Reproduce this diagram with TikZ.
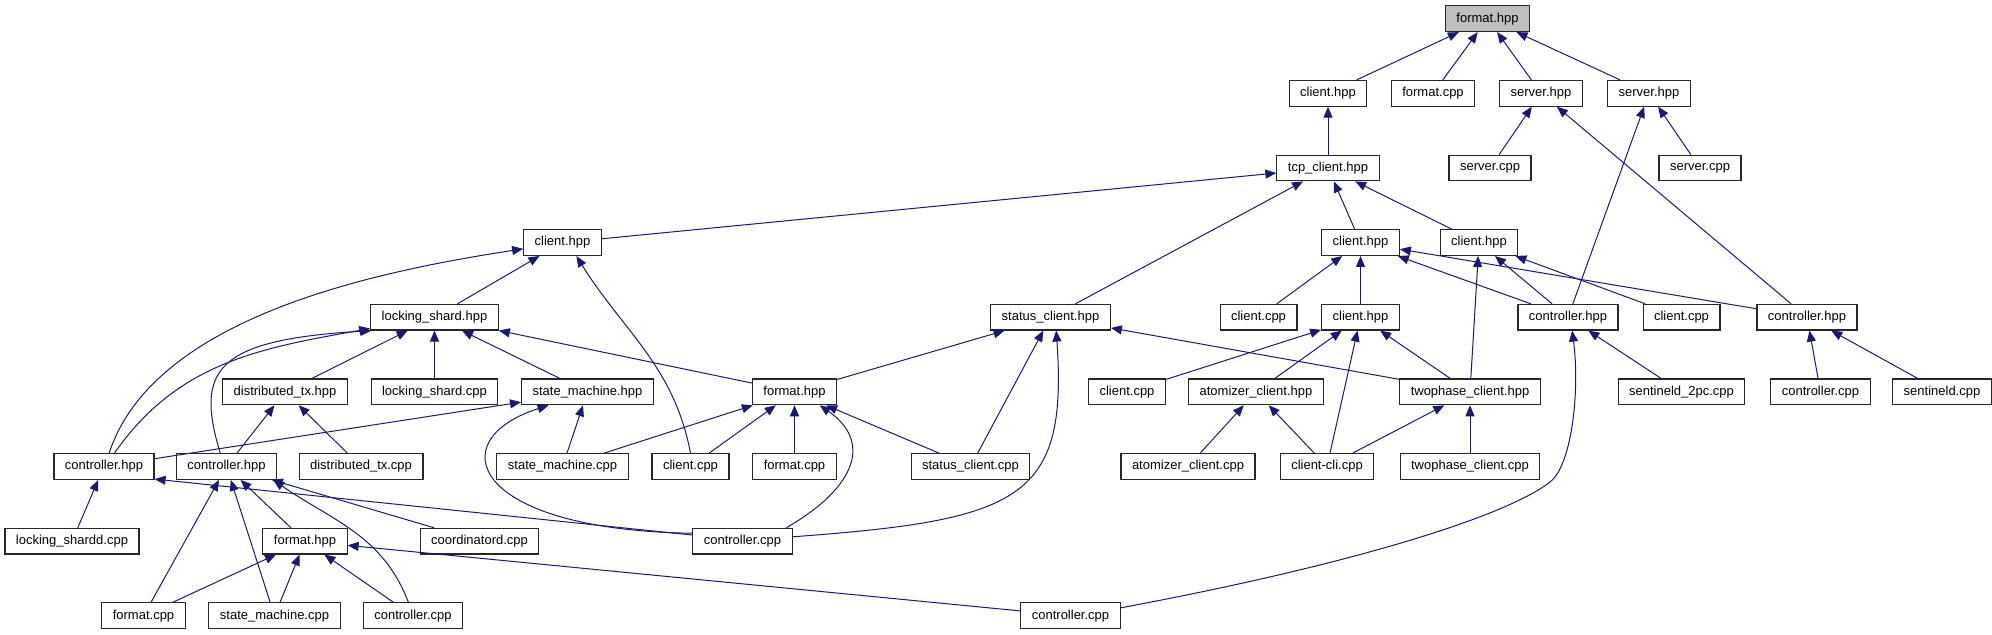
\documentclass[tikz,border=0pt]{standalone}
\usepackage{fontspec}
\setmainfont{Liberation Sans}
\usetikzlibrary{arrows.meta}
\definecolor{edgeBlue}{RGB}{25,25,112}
\definecolor{rootGray}{RGB}{191,191,191}

\begin{document}
\begin{tikzpicture}[x=0.5pt, y=-0.5pt,
		file/.style={draw=black!85, line width=0.55pt, fill=white, font=\fontsize{6.5}{7.5}\selectfont, inner xsep=5.5pt, inner ysep=0pt, minimum height=12.85pt},
		inc/.style={draw=edgeBlue, line width=0.5pt, -{Triangle[length=5.5pt, width=4.5pt]}}]
				\useasboundingbox (0,0) rectangle (1992,635);
				\node[file, fill=rootGray] (formatH) at (1487.5,18.7) {format.hpp};
				\node[file] (clientH1) at (1328,93.3) {client.hpp};
				\node[file] (formatC1) at (1433,93.3) {format.cpp};
				\node[file] (serverH1) at (1541,93.3) {server.hpp};
				\node[file] (serverH2) at (1649,93.3) {server.hpp};
				\node[file] (tcpClient) at (1328,168) {tcp\_client.hpp};
				\node[file] (serverC1) at (1490,168) {server.cpp};
				\node[file] (serverC2) at (1700,168) {server.cpp};
				\node[file] (clientH2) at (562.5,242.6) {client.hpp};
				\node[file] (clientH3) at (1360.5,242.6) {client.hpp};
				\node[file] (clientH4) at (1479,242.6) {client.hpp};
				\node[file] (lockShardH) at (434.5,317.2) {locking\_shard.hpp};
				\node[file] (statusClientH) at (1050.5,317.2) {status\_client.hpp};
				\node[file] (clientC1) at (1258.5,317.2) {client.cpp};
				\node[file] (clientH5) at (1360.5,317.2) {client.hpp};
				\node[file] (ctrlH1) at (1568,317.2) {controller.hpp};
				\node[file] (clientC2) at (1681.5,317.2) {client.cpp};
				\node[file] (ctrlH2) at (1807,317.2) {controller.hpp};
				\node[file] (distTxH) at (285,391.9) {distributed\_tx.hpp};
				\node[file] (lockShardC) at (434.5,391.9) {locking\_shard.cpp};
				\node[file] (smH) at (587.5,391.9) {state\_machine.hpp};
				\node[file] (formatH2) at (794.5,391.9) {format.hpp};
				\node[file] (clientC3) at (1127,391.9) {client.cpp};
				\node[file] (atomH) at (1256,391.9) {atomizer\_client.hpp};
				\node[file] (twoPhaseH) at (1470,391.9) {twophase\_client.hpp};
				\node[file] (sentinel2pc) at (1681.5,391.9) {sentineld\_2pc.cpp};
				\node[file] (ctrlC1) at (1820.5,391.9) {controller.cpp};
				\node[file] (sentineldC) at (1942,391.9) {sentineld.cpp};
				\node[file] (ctrlH3) at (104,466.5) {controller.hpp};
				\node[file] (ctrlH4) at (226.5,466.5) {controller.hpp};
				\node[file] (distTxC) at (361,466.5) {distributed\_tx.cpp};
				\node[file] (smC1) at (562.5,466.5) {state\_machine.cpp};
				\node[file] (clientC4) at (690.5,466.5) {client.cpp};
				\node[file] (formatC2) at (794.5,466.5) {format.cpp};
				\node[file] (statusClientC) at (970.5,466.5) {status\_client.cpp};
				\node[file] (atomC) at (1188,466.5) {atomizer\_client.cpp};
				\node[file] (clientCli) at (1327,466.5) {client-cli.cpp};
				\node[file] (twoPhaseC) at (1470,466.5) {twophase\_client.cpp};
				\node[file] (lockShardd) at (72,541.2) {locking\_shardd.cpp};
				\node[file] (formatH3) at (305,541.2) {format.hpp};
				\node[file] (coordC) at (479.5,541.2) {coordinatord.cpp};
				\node[file] (ctrlC2) at (742.5,541.2) {controller.cpp};
				\node[file] (formatC3) at (143.5,615.8) {format.cpp};
				\node[file] (smC2) at (274.5,615.8) {state\_machine.cpp};
				\node[file] (ctrlC3) at (413,615.8) {controller.cpp};
				\node[file] (ctrlC4) at (1070.5,615.8) {controller.cpp};
				\draw[inc] (clientH1) -- (formatH);
				\draw[inc] (formatC1) -- (formatH);
				\draw[inc] (serverH1) -- (formatH);
				\draw[inc] (serverH2) -- (formatH);
				\draw[inc] (tcpClient) -- (clientH1);
				\draw[inc] (serverC1) -- (serverH1);
				\draw[inc] (ctrlH2) -- (serverH1);
				\draw[inc] (serverC2) -- (serverH2);
				\draw[inc] (ctrlH1) -- (serverH2);
				\draw[inc] (clientH2) -- (tcpClient);
				\draw[inc] (statusClientH) -- (tcpClient);
				\draw[inc] (clientH3) -- (tcpClient);
				\draw[inc] (clientH4) -- (tcpClient);
				\draw[inc] (lockShardH) -- (clientH2);
				\draw[inc] (ctrlH3.69) .. controls (154,316) and (379,271) .. (clientH2.-171);
				\draw[inc] (clientC4.north) .. controls (674,366) and (623,331) .. (clientH2.-44);
				\draw[inc] (clientC1) -- (clientH3);
				\draw[inc] (clientH5) -- (clientH3);
				\draw[inc] (ctrlH1) -- (clientH3);
				\draw[inc] (ctrlH2) -- (clientH3);
				\draw[inc] (twoPhaseH) -- (clientH4);
				\draw[inc] (ctrlH1) -- (clientH4);
				\draw[inc] (clientC2) -- (clientH4);
				\draw[inc] (distTxH) -- (lockShardH);
				\draw[inc] (lockShardC) -- (lockShardH);
				\draw[inc] (smH) -- (lockShardH);
				\draw[inc] (formatH2) -- (lockShardH);
				\draw[inc] (ctrlH3.52) .. controls (178,362) and (261,348) .. (lockShardH.-170);
				\draw[inc] (ctrlH4.115) .. controls (195,370) and (215,340) .. (lockShardH.-168);
				\draw[inc] (formatH2) -- (statusClientH);
				\draw[inc] (statusClientC) -- (statusClientH);
				\draw[inc] (twoPhaseH) -- (statusClientH);
				\draw[inc] (ctrlC2.5) .. controls (1020,520) and (1068,500) .. (statusClientH.-67);
				\draw[inc] (clientC3) -- (clientH5);
				\draw[inc] (atomH) -- (clientH5);
				\draw[inc] (clientCli) -- (clientH5);
				\draw[inc] (twoPhaseH) -- (clientH5);
				\draw[inc] (sentinel2pc) -- (ctrlH1);
				\draw[inc] (ctrlC4.9) .. controls (1350,565) and (1505,517) .. (1550,482)
					.. controls (1572,465) and (1580,390) .. (ctrlH1.-73);
				\draw[inc] (ctrlC1) -- (ctrlH2);
				\draw[inc] (sentineldC) -- (ctrlH2);
				\draw[inc] (ctrlH4) -- (distTxH);
				\draw[inc] (distTxC) -- (distTxH);
				\draw[inc] (ctrlH3) -- (smH);
				\draw[inc] (smC1) -- (smH);
				\draw[inc] (ctrlC2.171) .. controls (470,530) and (440,440) .. (smH.-161);
				\draw[inc] (smC1) -- (formatH2);
				\draw[inc] (clientC4) -- (formatH2);
				\draw[inc] (formatC2) -- (formatH2);
				\draw[inc] (statusClientC) -- (formatH2);
				\draw[inc] (ctrlC2.17) .. controls (860,485) and (870,440) .. (formatH2.-28);
				\draw[inc] (atomC) -- (atomH);
				\draw[inc] (clientCli) -- (atomH);
				\draw[inc] (clientCli) -- (twoPhaseH);
				\draw[inc] (twoPhaseC) -- (twoPhaseH);
				\draw[inc] (lockShardd) -- (ctrlH3);
				\draw[inc] (ctrlC2.173) -- (ctrlH3.-14);
				\draw[inc] (formatC3) -- (ctrlH4);
				\draw[inc] (smC2) -- (ctrlH4);
				\draw[inc] (formatH3) -- (ctrlH4);
				\draw[inc] (coordC) -- (ctrlH4);
				\draw[inc] (ctrlC3.109) .. controls (383,535) and (331,520) .. (ctrlH4.-16);
				\draw[inc] (formatC3) -- (formatH3);
				\draw[inc] (smC2) -- (formatH3);
				\draw[inc] (ctrlC3) -- (formatH3);
				\draw[inc] (ctrlC4) -- (formatH3);
			\end{tikzpicture}
\end{document}
